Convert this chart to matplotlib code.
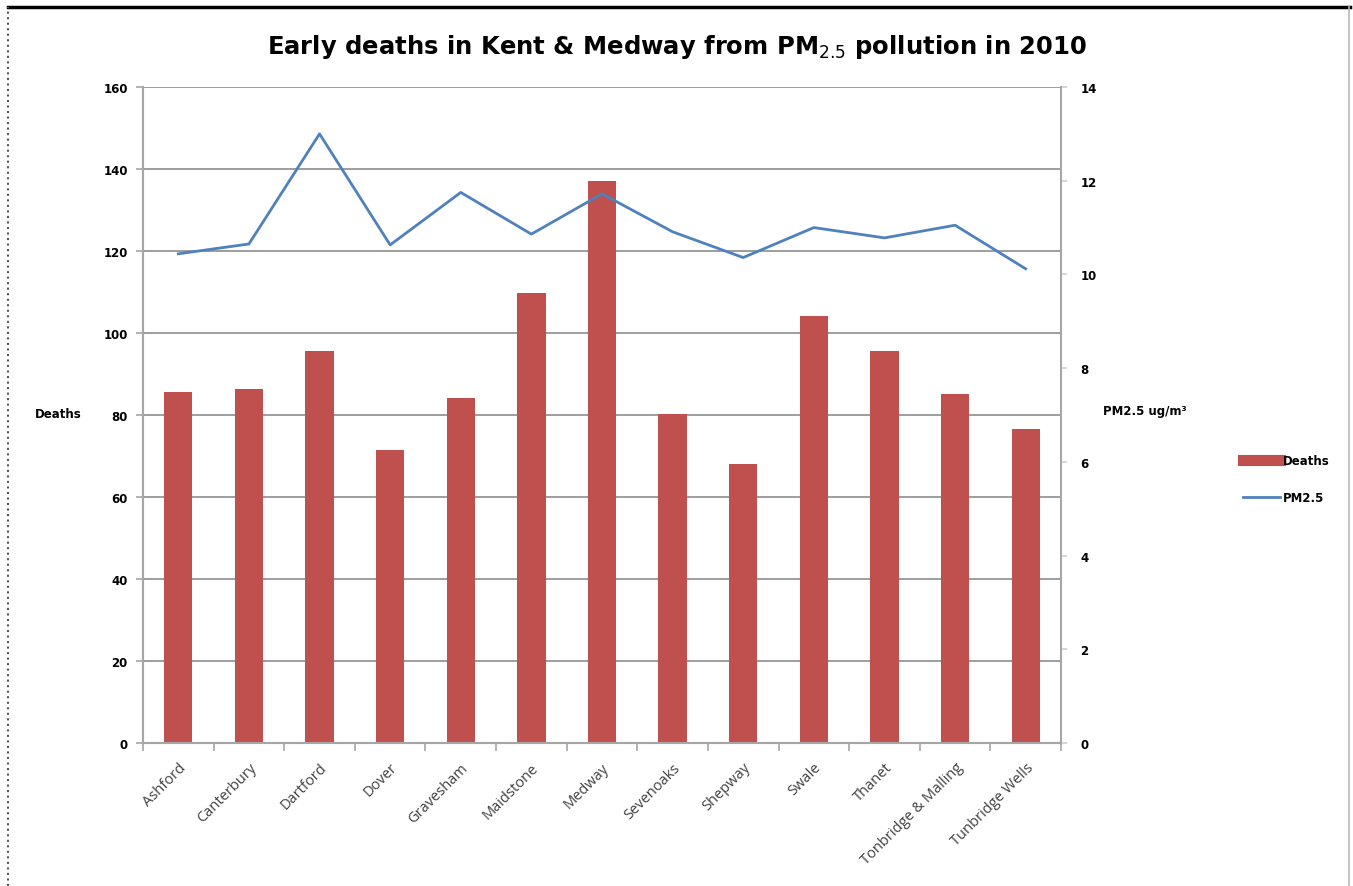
import matplotlib
matplotlib.use("Agg")
import matplotlib.pyplot as plt
from matplotlib.lines import Line2D
import numpy as np

districts = ["Ashford", "Canterbury", "Dartford", "Dover", "Gravesham", "Maidstone",
             "Medway", "Sevenoaks", "Shepway", "Swale", "Thanet",
             "Tonbridge & Malling", "Tunbridge Wells"]
deaths = [85.5, 86.3, 95.5, 71.5, 84.1, 109.7, 137.1, 80.3, 68.1, 104.2, 95.5, 85.0, 76.6]
pm25 = [10.44, 10.65, 13.0, 10.63, 11.75, 10.86, 11.72, 10.91, 10.36, 11.0, 10.78, 11.05, 10.12]
left_ticks = [0, 20, 40, 60, 80, 100, 120, 140, 160]
right_ticks = [0, 2, 4, 6, 8, 10, 12, 14]

bar_color = "#C0504D"
line_color = "#4F81BD"
axis_gray = "#A6A6A6"
grid_gray = "#8C8C8C"

fig = plt.figure(figsize=(13.53, 8.87), dpi=100)
W, H = 1353, 887
left, right, top, bottom = 143, 1061, 88, 744
ax = fig.add_axes([left / W, 1 - bottom / H, (right - left) / W, (bottom - top) / H])
ax2 = ax.twinx()

x = np.arange(len(districts))
ax.bar(x, deaths, width=0.4, color=bar_color, zorder=3, label="Deaths")
ax2.plot(x, pm25, color=line_color, lw=2.0, zorder=4, label="PM2.5")

ax.set_xlim(-0.5, len(districts) - 0.5)
ax.set_ylim(0, 160)
ax2.set_ylim(0, 14)
ax.set_yticks(left_ticks)
ax2.set_yticks(right_ticks)
ax.yaxis.grid(True, color=grid_gray, lw=1.2, zorder=0)
ax.set_axisbelow(True)

for a in (ax, ax2):
    a.spines["top"].set_visible(False)
    for s in ("left", "right", "bottom"):
        a.spines[s].set_color(axis_gray)
        a.spines[s].set_linewidth(1.5)
ax.spines["right"].set_visible(False)

# category boundary ticks on the x axis
ax.set_xticks(x)
ax.set_xticks(np.arange(-0.5, len(districts), 1.0), minor=True)
ax.tick_params(axis="x", which="major", length=0, pad=12)
ax.tick_params(axis="x", which="minor", length=6, color=axis_gray, width=1.2)
ax.set_xticklabels(districts, rotation=45, ha="right", rotation_mode="anchor",
                   fontsize=10.5, color="#404040", fontfamily="Open Sans")

ax.tick_params(axis="y", length=5, color=axis_gray, width=1.2, pad=6)
ax2.tick_params(axis="y", length=4, color="#D0D0D0", width=1.2, pad=10)
for lab in ax.get_yticklabels() + ax2.get_yticklabels():
    lab.set_fontweight("bold")
    lab.set_fontsize(8.5)

fig.text(35 / W, 1 - 415 / H, "Deaths", fontsize=8.5, fontweight="bold", va="center", ha="left")
fig.text(1103 / W, 1 - 412 / H, "PM2.5 ug/m³", fontsize=8.5, fontweight="bold", va="center", ha="left")

fig.text(677 / W, 1 - 47 / H, "Early deaths in Kent & Medway from PM$_{2.5}$ pollution in 2010",
         fontsize=17.5, fontweight="heavy", ha="center", va="center",
         fontfamily="DejaVu Sans")

handles = [Line2D([0], [0], color=bar_color, lw=8),
           Line2D([0], [0], color=line_color, lw=2)]
fig.legend(handles, ["Deaths", "PM2.5"], loc="center left",
           bbox_to_anchor=(1232 / W, 1 - 480 / H), frameon=False,
           prop={"weight": "bold", "size": 8.5}, handlelength=3.2,
           handletextpad=0.2, labelspacing=2.0)

# outer frame
fig.add_artist(Line2D([8 / W, 1350 / W], [1 - 8 / H, 1 - 8 / H], color="black", lw=2.5))
fig.add_artist(Line2D([8 / W, 8 / W], [0, 1 - 8 / H], color="#555555", lw=1.5, ls=":"))
fig.add_artist(Line2D([1349 / W, 1349 / W], [0, 1 - 8 / H], color="#BBBBBB", lw=1.2))

fig.savefig("out.png", dpi=100)
